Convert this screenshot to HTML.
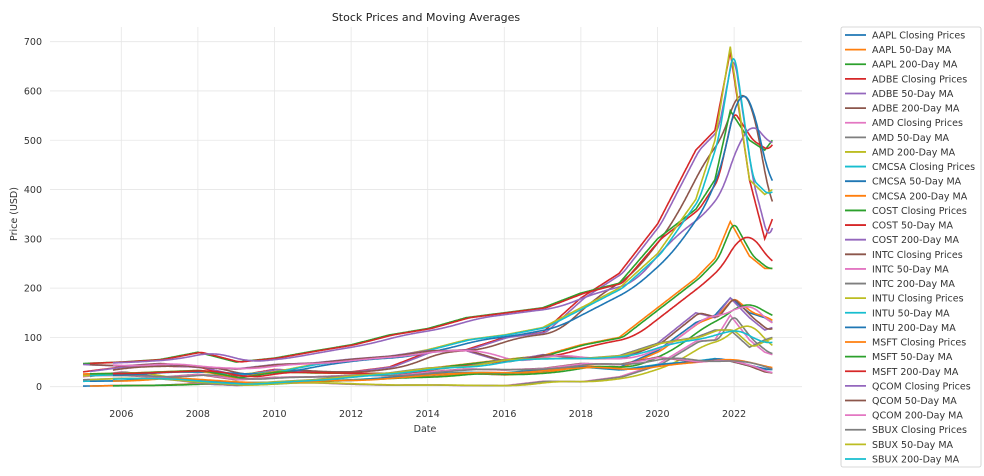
<!DOCTYPE html>
<html><head><meta charset="utf-8"><style>
body{margin:0;background:#fff;width:984px;height:471px;overflow:hidden;font-family:"Liberation Sans","DejaVu Sans",sans-serif}
svg text{font-family:"DejaVu Sans","Liberation Sans",sans-serif}
</style></head><body>
<svg id="chart" width="984" height="471" xmlns="http://www.w3.org/2000/svg">
<g id="grid"></g>
<g id="axes"></g>
<g id="series" clip-path="url(#clip)"></g>
<defs><clipPath id="clip"><rect x="50" y="27" width="752" height="375"/></clipPath></defs>
<text x="426" y="21" font-size="11" text-anchor="middle" fill="#222">Stock Prices and Moving Averages</text>
<text x="425" y="432" font-size="9.5" text-anchor="middle" fill="#333">Date</text>
<text transform="translate(17,214) rotate(-90)" font-size="9.5" text-anchor="middle" fill="#333">Price (USD)</text>
<g id="legend"></g>
</svg>
<script>
const dates=[2005,2006,2007,2008,2009,2010,2011,2012,2013,2014,2015,2016,2017,2018,2019,2020,2021,2021.5,2021.9,2022.4,2022.8,2023];
const tickers=["AAPL","ADBE","AMD","CMCSA","COST","INTC","INTU","MSFT","QCOM","SBUX"];
const AAPL=[1.2,2.5,3,6,3,7,11,14,18,20,27,24,29,42,39,73,130,145,180,150,140,130];
const ADBE=[30,40,42,40,22,35,30,30,40,70,75,100,110,180,230,330,480,520,680,420,300,340];
const AMD=[20,30,18,7,2.5,8,8,5,3,3.5,2.5,2,11,10,20,45,92,95,145,95,70,65];
const CMCSA=[11,12,18,13,8,9,12,13,19,26,29,28,35,40,34,45,52,57,52,42,35,35];
const COST=[47,50,55,70,50,58,72,85,105,118,140,150,160,190,210,300,360,420,560,500,480,500];
const INTC=[23,23,19,25,14,19,20,23,22,30,36,34,37,47,45,60,50,53,52,42,30,28];
const INTU=[22,25,30,30,25,30,45,55,60,75,95,105,120,160,200,270,380,500,690,420,390,400];
const MSFT=[26,27,30,33,18,30,28,27,27,37,46,55,63,85,100,160,220,260,335,265,240,240];
const QCOM=[45,42,47,39,36,45,48,56,62,73,73,50,65,57,57,88,150,140,180,140,115,120];
const SBUX=[14,17,16,9,4.5,10,14,22,28,38,41,55,57,57,63,88,100,115,115,80,95,100];
const closes={AAPL,ADBE,AMD,CMCSA,COST,INTC,INTU,MSFT,QCOM,SBUX};
const yTicks=[0,100,200,300,400,500,600,700];
const xTicks=[2006,2008,2010,2012,2014,2016,2018,2020,2022];
const colors=["#1f77b4","#ff7f0e","#2ca02c","#d62728","#9467bd","#8c564b","#e377c2","#7f7f7f","#bcbd22","#17becf"];
const NS="http://www.w3.org/2000/svg";
const X=y=>121.3+(y-2006)*38.3;
const Y=v=>386.7-v*0.4929;
function mk(tag,attrs,parent){const e=document.createElementNS(NS,tag);for(const k in attrs)e.setAttribute(k,attrs[k]);parent.appendChild(e);return e;}
const grid=document.getElementById('grid'),axes=document.getElementById('axes'),ser=document.getElementById('series'),leg=document.getElementById('legend');
yTicks.forEach(t=>{const l=mk('line',{x1:50,x2:802,y1:Y(t),y2:Y(t),stroke:'#e6e6e6','stroke-width':0.8},grid);

const tx=mk('text',{x:42,y:Y(t)+3.5,'font-size':9.5,'text-anchor':'end',fill:'#333'},axes);tx.textContent=t;
});
xTicks.forEach(t=>{const l=mk('line',{x1:X(t),x2:X(t),y1:27,y2:402,stroke:'#e6e6e6','stroke-width':0.8},grid);

const tx=mk('text',{x:X(t),y:417,'font-size':9.5,'text-anchor':'middle',fill:'#333'},axes);tx.textContent=t;
});
function interp(arr,t){if(t<=dates[0])return arr[0];for(let i=1;i<dates.length;i++){if(t<=dates[i]){const f=(t-dates[i-1])/(dates[i]-dates[i-1]);return arr[i-1]+f*(arr[i]-arr[i-1]);}}return arr[arr.length-1];}
const step=0.02;
function dense(arr){const pts=[];for(let t=2005;t<=2023.001;t+=step)pts.push([t,interp(arr,t)]);return pts;}
function ma(pts,win){const n=Math.max(1,Math.round(win/step));const out=[];let s=0;for(let i=0;i<pts.length;i++){s+=pts[i][1];if(i>=n)s-=pts[i-n][1];if(i>=n-1)out.push([pts[i][0],s/n]);}return out;}
function path(pts){return pts.map((p,i)=>(i?'L':'M')+X(p[0]).toFixed(1)+','+Y(p[1]).toFixed(1)).join('');}
const labels=[];let ci=0;
tickers.forEach(tk=>{const d=dense(closes[tk]);
const sets=[[d,tk+" Closing Prices"],[ma(d,50/252),tk+" 50-Day MA"],[ma(d,200/252),tk+" 200-Day MA"]];
sets.forEach(([pts,lab])=>{const c=colors[ci%10];ci++;
const p=mk('path',{d:path(pts),fill:'none',stroke:c,'stroke-width':1.6},ser);

labels.push([lab,c]);});});
const box=mk('rect',{x:841,y:27,width:140,height:440,fill:'#fff',stroke:'#ccc','stroke-width':0.8,rx:2},leg);

labels.forEach(([lab,c],i)=>{const y=35+i*14.62;
const l=mk('line',{x1:845,x2:866,y1:y,y2:y,stroke:c,'stroke-width':1.8},leg);

const t=mk('text',{x:872,y:y+3.5,'font-size':9.5,fill:'#333'},leg);t.textContent=lab;
});
</script>
</body></html>
